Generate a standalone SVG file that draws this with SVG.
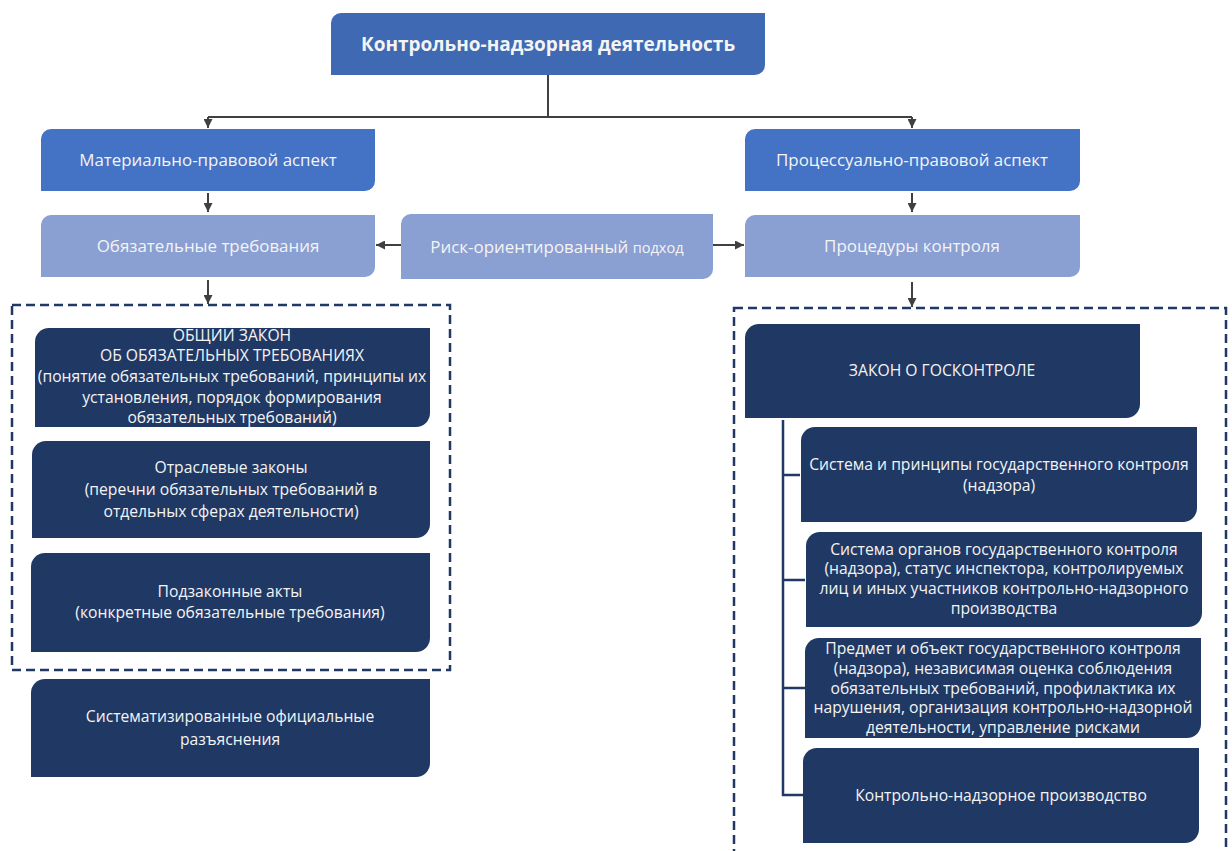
<svg xmlns="http://www.w3.org/2000/svg" width="1232" height="851" viewBox="0 0 1232 851">
<style>
.t{font-family:"Open Sans","Noto Sans","Liberation Sans",sans-serif;fill:#F4F4F4;text-anchor:middle}
.mid{fill:#4472C4}
.top{fill:#3F69B2}
.lt{fill:#8A9FD2}
.dk{fill:#203864}
.con{stroke:#404040;stroke-width:2;fill:none}
.tree{stroke:#203864;stroke-width:2.5;fill:none}
.dash{stroke:#203864;stroke-width:2.5;fill:none;stroke-dasharray:9 5}
.s{font-size:15.7px}
.m{font-size:16.9px}
</style>
<defs>
<marker id="ah" viewBox="0 0 10 10" refX="10" refY="5" markerWidth="9" markerHeight="9" markerUnits="userSpaceOnUse" orient="auto">
<path d="M0,0 L10,5 L0,10 Z" fill="#404040"/>
</marker>
</defs>
<rect width="1232" height="851" fill="#FFFFFF"/>
<g id="connectors">
<path class="con" d="M548,75 V117"/>
<path class="con" d="M208,117 H912"/>
<path class="con" d="M208,117 V128" marker-end="url(#ah)"/>
<path class="con" d="M912,117 V128" marker-end="url(#ah)"/>
<path class="con" d="M208,193 V212" marker-end="url(#ah)"/>
<path class="con" d="M912,193 V212" marker-end="url(#ah)"/>
<path class="con" d="M401,245 H376" marker-end="url(#ah)"/>
<path class="con" d="M713,245 H744" marker-end="url(#ah)"/>
<path class="con" d="M208,280 V304" marker-end="url(#ah)"/>
<path class="con" d="M912,282 V307" marker-end="url(#ah)"/>
<path class="tree" d="M783,420 V796 M783,475 H800 M783,580 H805 M783,688 H805 M782,795 H803"/>
</g>
<g id="group-left"><rect class="dash" x="12" y="305" width="438" height="365"/></g>
<g id="group-right"><rect class="dash" x="734" y="308" width="492" height="560"/></g>
<g id="n-root">
<path class="top" d="M341,13 H765 V65 A10,10 0 0 1 755,75 H331 V23 A10,10 0 0 1 341,13 Z"/>
<text class="t" x="548" y="51" font-size="19" font-weight="bold">Контрольно-надзорная деятельность</text>
</g>
<g id="n-material">
<path class="mid" d="M51,129 H375 V181 A10,10 0 0 1 365,191 H41 V139 A10,10 0 0 1 51,129 Z"/>
<text class="t m" x="208" y="166">Материально-правовой аспект</text>
</g>
<g id="n-process">
<path class="mid" d="M755,129 H1080 V181 A10,10 0 0 1 1070,191 H745 V139 A10,10 0 0 1 755,129 Z"/>
<text class="t m" x="912" y="166">Процессуально-правовой аспект</text>
</g>
<g id="n-oblig">
<path class="lt" d="M51,215 H375 V267 A10,10 0 0 1 365,277 H41 V225 A10,10 0 0 1 51,215 Z"/>
<text class="t m" x="208" y="252">Обязательные требования</text>
</g>
<g id="n-risk">
<path class="lt" d="M411,214 H713 V269 A10,10 0 0 1 703,279 H401 V224 A10,10 0 0 1 411,214 Z"/>
<text class="t m" x="557" y="253">Риск-ориентированный <tspan font-size="14.6">подход</tspan></text>
</g>
<g id="n-proc">
<path class="lt" d="M755,215 H1080 V267 A10,10 0 0 1 1070,277 H745 V225 A10,10 0 0 1 755,215 Z"/>
<text class="t m" x="912" y="252">Процедуры контроля</text>
</g>
<g id="n-general">
<path class="dk" d="M49,328 H430 V413 A14,14 0 0 1 416,427 H35 V342 A14,14 0 0 1 49,328 Z"/>
<text class="t s"><tspan x="232" y="341">ОБЩИЙ ЗАКОН</tspan><tspan x="232" y="361">ОБ ОБЯЗАТЕЛЬНЫХ ТРЕБОВАНИЯХ</tspan><tspan x="232" y="382">(понятие обязательных требований, принципы их</tspan><tspan x="232" y="403">установления, порядок формирования</tspan><tspan x="232" y="423">обязательных требований)</tspan></text>
</g>
<g id="n-sector">
<path class="dk" d="M46,441 H430 V524 A14,14 0 0 1 416,538 H32 V455 A14,14 0 0 1 46,441 Z"/>
<text class="t s"><tspan x="231" y="473">Отраслевые законы</tspan><tspan x="231" y="495">(перечни обязательных требований в</tspan><tspan x="231" y="517">отдельных сферах деятельности)</tspan></text>
</g>
<g id="n-bylaws">
<path class="dk" d="M45,553 H430 V638 A14,14 0 0 1 416,652 H31 V567 A14,14 0 0 1 45,553 Z"/>
<text class="t s"><tspan x="230" y="597">Подзаконные акты</tspan><tspan x="230" y="618">(конкретные обязательные требования)</tspan></text>
</g>
<g id="n-explain">
<path class="dk" d="M45,679 H430 V763 A14,14 0 0 1 416,777 H31 V693 A14,14 0 0 1 45,679 Z"/>
<text class="t s"><tspan x="230" y="722">Систематизированные официальные</tspan><tspan x="230" y="745">разъяснения</tspan></text>
</g>
<g id="n-law">
<path class="dk" d="M759,324 H1140 V404 A14,14 0 0 1 1126,418 H745 V338 A14,14 0 0 1 759,324 Z"/>
<text class="t s" x="942" y="376">ЗАКОН О ГОСКОНТРОЛЕ</text>
</g>
<g id="n-system">
<path class="dk" d="M815,427 H1197 V508 A14,14 0 0 1 1183,522 H801 V441 A14,14 0 0 1 815,427 Z"/>
<text class="t s"><tspan x="999" y="470">Система и принципы государственного контроля</tspan><tspan x="999" y="491">(надзора)</tspan></text>
</g>
<g id="n-organs">
<path class="dk" d="M820,532 H1202 V613 A14,14 0 0 1 1188,627 H806 V546 A14,14 0 0 1 820,532 Z"/>
<text class="t s"><tspan x="1004" y="555">Система органов государственного контроля</tspan><tspan x="1004" y="574">(надзора), статус инспектора, контролируемых</tspan><tspan x="1004" y="594">лиц и иных участников контрольно-надзорного</tspan><tspan x="1004" y="614">производства</tspan></text>
</g>
<g id="n-subject">
<path class="dk" d="M819,638 H1201 V724 A14,14 0 0 1 1187,738 H805 V652 A14,14 0 0 1 819,638 Z"/>
<text class="t s"><tspan x="1003" y="654">Предмет и объект государственного контроля</tspan><tspan x="1003" y="674">(надзора), независимая оценка соблюдения</tspan><tspan x="1003" y="694">обязательных требований, профилактика их</tspan><tspan x="1003" y="713">нарушения, организация контрольно-надзорной</tspan><tspan x="1003" y="733">деятельности, управление рисками</tspan></text>
</g>
<g id="n-proceed">
<path class="dk" d="M817,748 H1199 V829 A14,14 0 0 1 1185,843 H803 V762 A14,14 0 0 1 817,748 Z"/>
<text class="t s" x="1001" y="801">Контрольно-надзорное производство</text>
</g>
</svg>
